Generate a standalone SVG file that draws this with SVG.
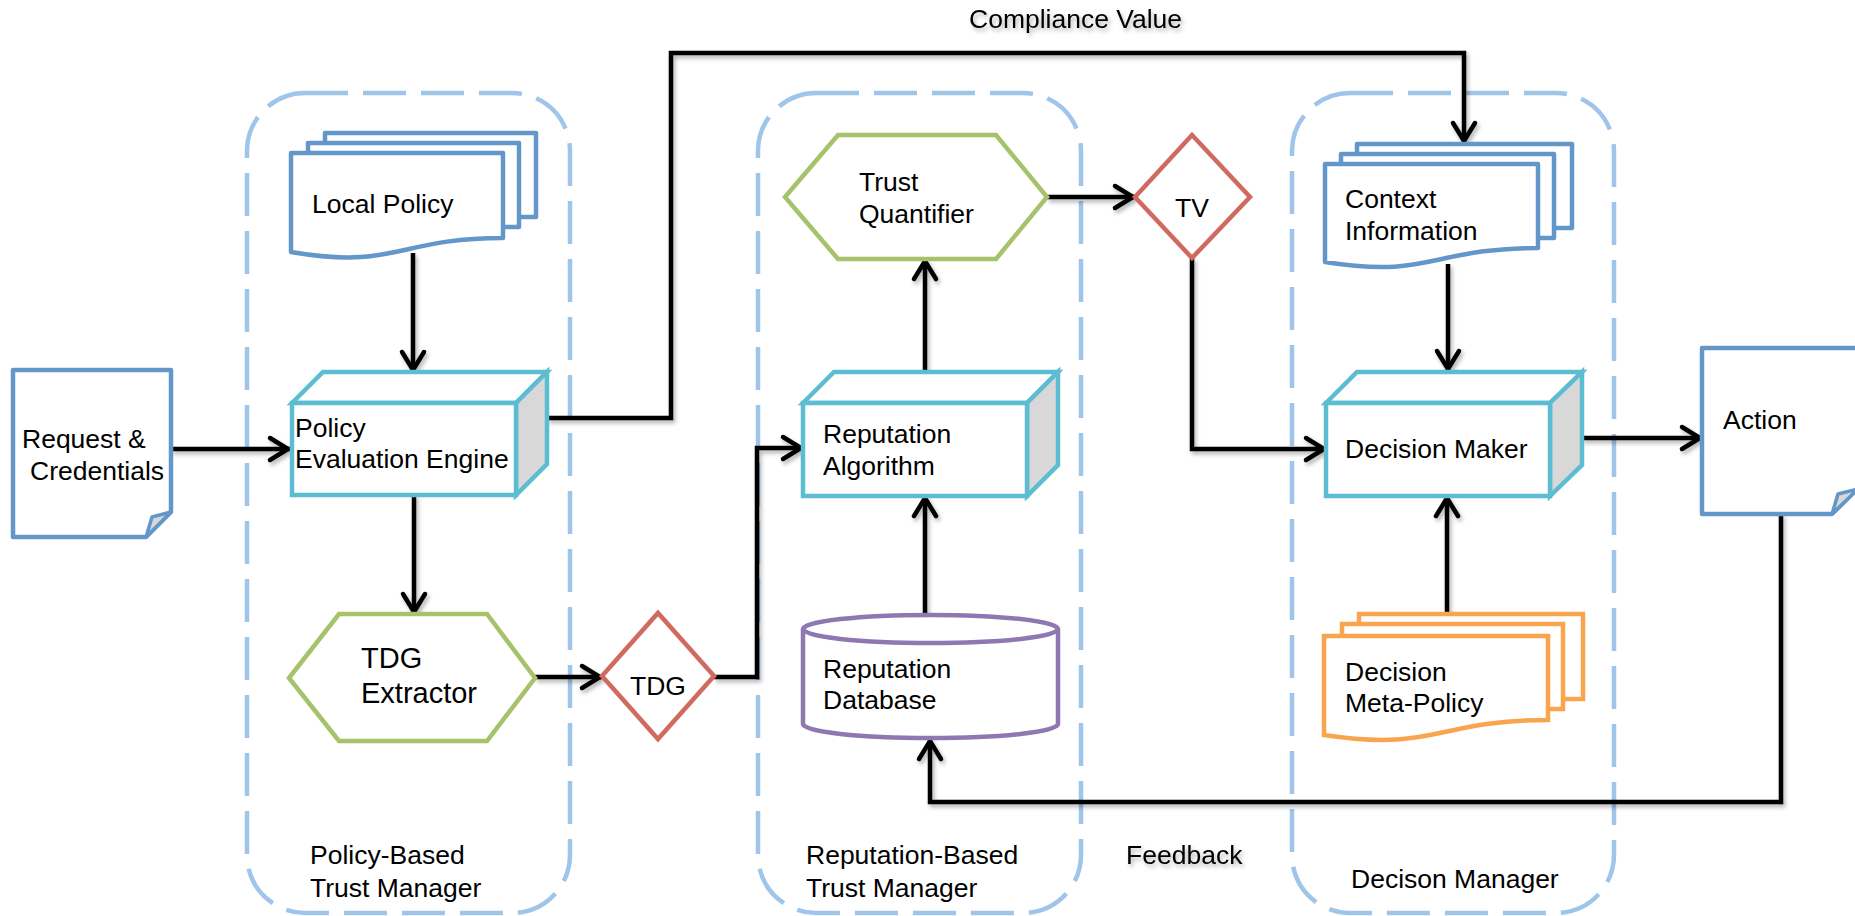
<svg xmlns="http://www.w3.org/2000/svg" width="1855" height="916" viewBox="0 0 1855 916">
  <style>
    text { font-family: "Liberation Sans", Arial, sans-serif; font-size: 26.5px; fill: #000; }
    .big { font-size: 29px; }
    .mid { text-anchor: middle; }
    .zone { fill: none; stroke: #9fc5ea; stroke-width: 4.5; stroke-dasharray: 43 15; }
    .doc { fill: #fff; stroke: #6396c9; stroke-width: 4.5; stroke-linejoin: round; }
    .fold { fill: #d8d8d8; stroke: #6396c9; stroke-width: 3.5; stroke-linejoin: round; }
    .cube { fill: #fff; stroke: #5cbcd2; stroke-width: 4.5; stroke-linejoin: miter; }
    .side { fill: #d8d8d8; stroke: #5cbcd2; stroke-width: 4.5; }
    .hex { fill: #fff; stroke: #a6c36b; stroke-width: 4.5; }
    .dia { fill: #fff; stroke: #d06a60; stroke-width: 4.5; }
    .cyl { fill: #fff; stroke: #8f78b1; stroke-width: 4.5; }
    .meta { fill: #fff; stroke: #f9a54f; stroke-width: 4.5; }
    .wire { fill: none; stroke: #000; stroke-width: 4.5; marker-end: url(#head); }
    .plain { fill: none; stroke: #000; stroke-width: 4.5; }
  </style>
  <defs>
    <marker id="head" markerUnits="userSpaceOnUse" markerWidth="30" markerHeight="30" viewBox="0 0 30 30" refX="24" refY="15" orient="auto">
      <path d="M4,4 L22,15 L4,26" fill="none" stroke="#000" stroke-width="4.5" stroke-linecap="round" stroke-linejoin="miter"/>
    </marker>
    <filter id="shade" x="-5%" y="-5%" width="110%" height="110%">
      <feDropShadow dx="2" dy="3" stdDeviation="2" flood-color="#000" flood-opacity="0.3"/>
    </filter>
  </defs>

  <rect width="1855" height="916" fill="#fff"/>

  <!-- dashed manager zones -->
  <g id="zone-policy">
    <rect class="zone" x="247" y="93" width="323" height="820" rx="58"/>
    <text x="310" y="864">Policy-Based</text>
    <text x="310" y="897">Trust Manager</text>
  </g>
  <g id="zone-reputation">
    <rect class="zone" x="758" y="93" width="323" height="820" rx="58"/>
    <text x="806" y="864">Reputation-Based</text>
    <text x="806" y="897">Trust Manager</text>
  </g>
  <g id="zone-decision">
    <rect class="zone" x="1292" y="93" width="322" height="820" rx="58"/>
    <text x="1351" y="888">Decison Manager</text>
  </g>

  <!-- connectors -->
  <g id="connectors" filter="url(#shade)">
    <path class="wire" d="M171,449 H290"/>
    <path class="wire" d="M413,253 V372"/>
    <path class="wire" d="M414,495 V614"/>
    <path class="wire" d="M535,677 H602"/>
    <path class="wire" d="M714,677 H757 V448 H803"/>
    <path class="wire" d="M925,615 V496"/>
    <path class="wire" d="M925,372 V259"/>
    <path class="wire" d="M1047,197 H1135"/>
    <path class="wire" d="M1192,258 V449 H1326"/>
    <path class="wire" d="M547,418 H671 V53 H1464 V143"/>
    <path class="wire" d="M1448,264 V371"/>
    <path class="wire" d="M1447,614 V496"/>
    <path class="wire" d="M1582,438 H1702"/>
    <path class="wire" d="M1781,514 V802 H930 V739"/>
    <text x="969" y="28">Compliance Value</text>
    <text x="1126" y="864">Feedback</text>
  </g>

  <g id="request">
    <path class="doc" d="M13,370 H171 V512 L146,537 H13 Z"/>
    <path class="fold" d="M146,537 L152,517 L171,512 Z"/>
    <text x="22" y="448">Request &amp;</text>
    <text x="30" y="480">Credentials</text>
  </g>

  <g id="local-policy">
    <rect class="doc" x="325" y="133" width="211" height="84"/>
    <rect class="doc" x="308" y="143" width="211" height="84"/>
    <path class="doc" d="M291,153 H503 V238 C397,238 397,270 291,252 Z"/>
    <text x="312" y="213">Local Policy</text>
  </g>

  <g id="policy-engine">
    <polygon class="cube" points="292,403 323,372 547,372 516,403"/>
    <polygon class="side" points="516,403 547,372 547,464 516,495"/>
    <rect class="cube" x="292" y="403" width="224" height="92"/>
    <text x="295" y="437">Policy</text>
    <text x="295" y="468">Evaluation Engine</text>
  </g>

  <g id="tdg-extractor">
    <polygon class="hex" points="289,678 339,614 487,614 535,678 487,741 339,741"/>
    <text class="big" x="361" y="668">TDG</text>
    <text class="big" x="361" y="703">Extractor</text>
  </g>

  <g id="tdg">
    <polygon class="dia" points="602,676 658,613 714,676 658,739"/>
    <text class="mid" x="658" y="695">TDG</text>
  </g>

  <g id="trust-quantifier">
    <polygon class="hex" points="785,197 838,135 996,135 1047,197 996,259 838,259"/>
    <text x="859" y="191">Trust</text>
    <text x="859" y="223">Quantifier</text>
  </g>

  <g id="reputation-algorithm">
    <polygon class="cube" points="803,403 834,372 1058,372 1027,403"/>
    <polygon class="side" points="1027,403 1058,372 1058,465 1027,496"/>
    <rect class="cube" x="803" y="403" width="224" height="93"/>
    <text x="823" y="443">Reputation</text>
    <text x="823" y="475">Algorithm</text>
  </g>

  <g id="reputation-database">
    <path class="cyl" d="M803,629 A127.5,14 0 0 1 1058,629 V724 A127.5,14 0 0 1 803,724 Z"/>
    <path class="cyl" d="M803,629 A127.5,14 0 0 0 1058,629"/>
    <text x="823" y="678">Reputation</text>
    <text x="823" y="709">Database</text>
  </g>

  <g id="tv">
    <polygon class="dia" points="1135,197 1192,135 1250,197 1192,258"/>
    <text class="mid" x="1192" y="217">TV</text>
  </g>

  <g id="context-information">
    <rect class="doc" x="1357" y="144" width="215" height="84"/>
    <rect class="doc" x="1341" y="154" width="213" height="84"/>
    <path class="doc" d="M1325,164 H1538 V248 C1431,248 1431,279 1325,262 Z"/>
    <text x="1345" y="208">Context</text>
    <text x="1345" y="240">Information</text>
  </g>

  <g id="decision-maker">
    <polygon class="cube" points="1326,403 1357,372 1582,372 1550,403"/>
    <polygon class="side" points="1550,403 1582,372 1582,465 1550,496"/>
    <rect class="cube" x="1326" y="403" width="224" height="93"/>
    <text x="1345" y="458">Decision Maker</text>
  </g>

  <g id="meta-policy">
    <rect class="meta" x="1359" y="614" width="224" height="85"/>
    <rect class="meta" x="1342" y="624" width="221" height="85"/>
    <path class="meta" d="M1324,636 H1548 V720 C1436,720 1436,752 1324,735 Z"/>
    <text x="1345" y="681">Decision</text>
    <text x="1345" y="712">Meta-Policy</text>
  </g>

  <g id="action">
    <path class="doc" d="M1702,348 H1860 V486 L1832,514 H1702 Z"/>
    <path class="fold" d="M1832,514 L1838,494 L1858,489 Z"/>
    <text x="1723" y="429">Action</text>
  </g>
</svg>
